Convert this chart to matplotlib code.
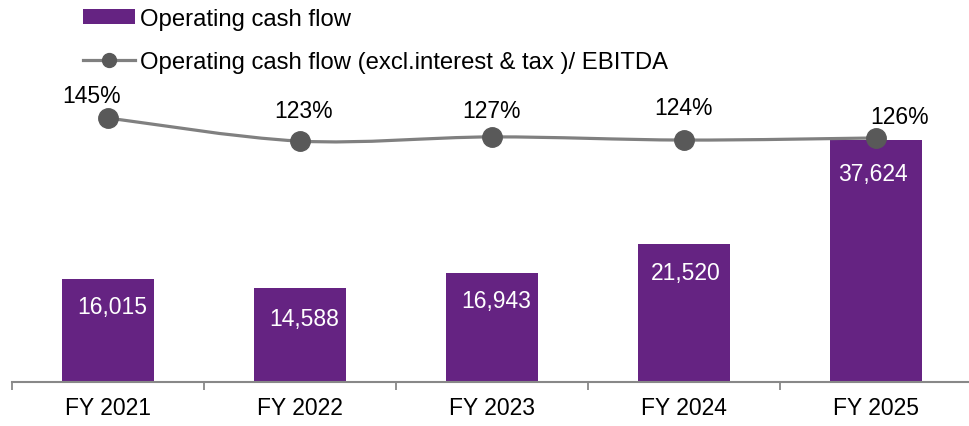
import matplotlib
matplotlib.use("Agg")
import matplotlib.pyplot as plt
from matplotlib.path import Path
from matplotlib.patches import PathPatch, Patch
from matplotlib.lines import Line2D
import numpy as np

plt.rcParams['font.family'] = ['Liberation Sans', 'DejaVu Sans']

categories = ["FY 2021", "FY 2022", "FY 2023", "FY 2024", "FY 2025"]
cash_flow = [16015, 14588, 16943, 21520, 37624]
ratio_pct = [145, 123, 127, 124, 126]
bar_labels = ["16,015", "14,588", "16,943", "21,520", "37,624"]
ratio_labels = ["145%", "123%", "127%", "124%", "126%"]

# label offsets in points (style)
bar_lab_off = [(2.9, -24.5), (2.9, -26.6), (2.9, -24.5), (1.4, -25.2), (-2.2, -28.8)]
pct_lab_off = [(-11.5, 11.5), (2.9, 17.3), (0, 14.4), (0, 18.7), (17.3, 10.8)]

BAR_C = "#652382"
LINE_C = "#808080"
MARK_C = "#595959"
FS = 16.5
LEG_FS = 17.2

fig = plt.figure(figsize=(9.70, 4.27), dpi=100)
ax = fig.add_axes([12/970, 44/427, 960/970, 283/427])
x = np.arange(len(categories))

ax.bar(x, cash_flow, width=0.474, color=BAR_C, zorder=2)
ax.set_xlim(-0.5, len(categories) - 0.5)
ax.set_ylim(0, 44000)
for s in ['top', 'right', 'left']:
    ax.spines[s].set_visible(False)
ax.spines['bottom'].set_color('#888888')
ax.spines['bottom'].set_linewidth(1.5)
ax.set_yticks([])
ax.set_xticks(np.arange(len(categories) + 1) - 0.5)
ax.set_xticklabels([])
ax.tick_params(axis='x', which='major', length=5.5, width=1.3, color='#888888')
ax.set_xticks(x, minor=True)
ax.set_xticklabels(categories, minor=True, fontsize=FS)
ax.tick_params(axis='x', which='minor', length=0, pad=10)

for i, (v, lab) in enumerate(zip(cash_flow, bar_labels)):
    ax.annotate(lab, (x[i], v), xytext=bar_lab_off[i], textcoords='offset points',
                ha='center', va='baseline', color='white', fontsize=FS, zorder=5)

ax2 = ax.twinx()
ax2.set_ylim(-106.4, 163.1)
ax2.axis('off')

# smooth curve (Catmull-Rom -> cubic Bezier) through the data points
pts = np.column_stack([x, ratio_pct]).astype(float)
verts = [tuple(pts[0])]
codes = [Path.MOVETO]
n = len(pts)
for i in range(n - 1):
    p0 = pts[i - 1] if i > 0 else pts[i]
    p1 = pts[i]
    p2 = pts[i + 1]
    p3 = pts[i + 2] if i + 2 < n else pts[i + 1]
    c1 = p1 + (p2 - p0) / 6.0
    c2 = p2 - (p3 - p1) / 6.0
    verts += [tuple(c1), tuple(c2), tuple(p2)]
    codes += [Path.CURVE4] * 3
ax2.add_patch(PathPatch(Path(verts, codes), facecolor='none', edgecolor=LINE_C,
                        lw=2.3, zorder=3))
ax2.plot(x, ratio_pct, linestyle='none', marker='o', markersize=14,
         color=MARK_C, zorder=4)
for i, (v, lab) in enumerate(zip(ratio_pct, ratio_labels)):
    ax2.annotate(lab, (x[i], v), xytext=pct_lab_off[i], textcoords='offset points',
                 ha='center', va='baseline', color='black', fontsize=FS, zorder=5)

handles = [Patch(facecolor=BAR_C, edgecolor='none'),
           Line2D([0], [0], color=LINE_C, lw=2.3, marker='o', markersize=10,
                  markerfacecolor=MARK_C, markeredgecolor=MARK_C)]
fig.legend(handles, ["Operating cash flow",
                     "Operating cash flow (excl.interest & tax )/ EBITDA"],
           loc='upper left', bbox_to_anchor=(83/970, 1 - 9/427), frameon=False,
           fontsize=LEG_FS, handlelength=2.18, handleheight=0.59, handletextpad=0.2,
           labelspacing=0.88, borderpad=0, borderaxespad=0)

fig.savefig("out.png", dpi=100)
